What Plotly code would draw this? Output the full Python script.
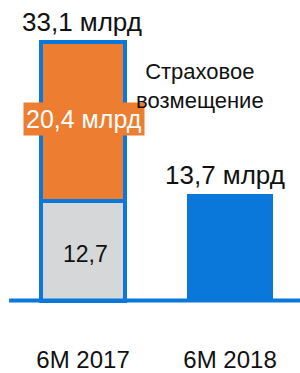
import plotly.graph_objects as go

categories = ["6M 2017", "6M 2018"]
base_values = [12.7, 13.7]
insurance_values = [20.4, 0]
total_labels = ["33,1 млрд", "13,7 млрд"]
totals = [33.1, 13.7]
base_label = "12,7"
insurance_label = "20,4 млрд"
note_text = "Страховое<br>возмещение"

BLUE = "#0A78DA"
ORANGE = "#ED7D31"
GRAY = "#D6D7D9"
FONT = "Liberation Sans, Arial, sans-serif"

fig = go.Figure()
fig.add_trace(go.Bar(
    x=[0], y=[base_values[0]], width=[0.571],
    marker=dict(color=GRAY, line=dict(color=BLUE, width=4)),
    hoverinfo="skip",
))
fig.add_trace(go.Bar(
    x=[0], y=[insurance_values[0]], width=[0.571],
    marker=dict(color=ORANGE, line=dict(color=BLUE, width=4)),
    hoverinfo="skip",
))
fig.add_trace(go.Bar(
    x=[1], y=[base_values[1]], width=[0.585],
    marker=dict(color=BLUE, line=dict(width=0)),
    hoverinfo="skip",
))

# baseline
fig.add_shape(type="line", xref="x", yref="y", x0=-0.503, x1=1.5, y0=0, y1=0,
              line=dict(color=BLUE, width=4))

# total labels
fig.add_annotation(x=-0.007, y=totals[0] + 2.56, text=total_labels[0], showarrow=False,
                   font=dict(family=FONT, size=26, color="#111111"), yanchor="middle")
fig.add_annotation(x=0.966, y=totals[1] + 2.41, text=total_labels[1], showarrow=False,
                   font=dict(family=FONT, size=26, color="#111111"), yanchor="middle")
# segment labels
fig.add_annotation(x=0.014, y=base_values[0] * 0.47, text=base_label, showarrow=False,
                   font=dict(family=FONT, size=23, color="#111111"), yanchor="middle")
fig.add_annotation(x=0.005, y=23.3, text=insurance_label, showarrow=False,
                   font=dict(family=FONT, size=25, color="white"), yanchor="middle",
                   bgcolor=ORANGE, borderpad=2)
fig.add_annotation(x=0.796, y=27.5, text=note_text, showarrow=False,
                   font=dict(family=FONT, size=22, color="#111111"), yanchor="middle",
                   align="center")

fig.update_layout(
    width=300, height=373,
    margin=dict(l=0, r=0, t=0, b=0),
    paper_bgcolor="white", plot_bgcolor="white",
    barmode="stack", showlegend=False,
    xaxis=dict(range=[-0.565, 1.476], tickvals=[0, 1], ticktext=categories,
               showgrid=False, zeroline=False, showline=False,
               anchor="free", position=65 / 373,
               ticks="outside", ticklen=38, tickcolor="rgba(0,0,0,0)",
               tickfont=dict(family=FONT, size=24, color="#111111")),
    yaxis=dict(range=[-8.12, 38.47], visible=False, showgrid=False, zeroline=False),
)

post = (
    "document.documentElement.style.margin='0';"
    "document.body.style.margin='0';document.body.style.overflow='hidden';"
)
fig.write_html("out.html", config={"displayModeBar": False}, post_script=post)
